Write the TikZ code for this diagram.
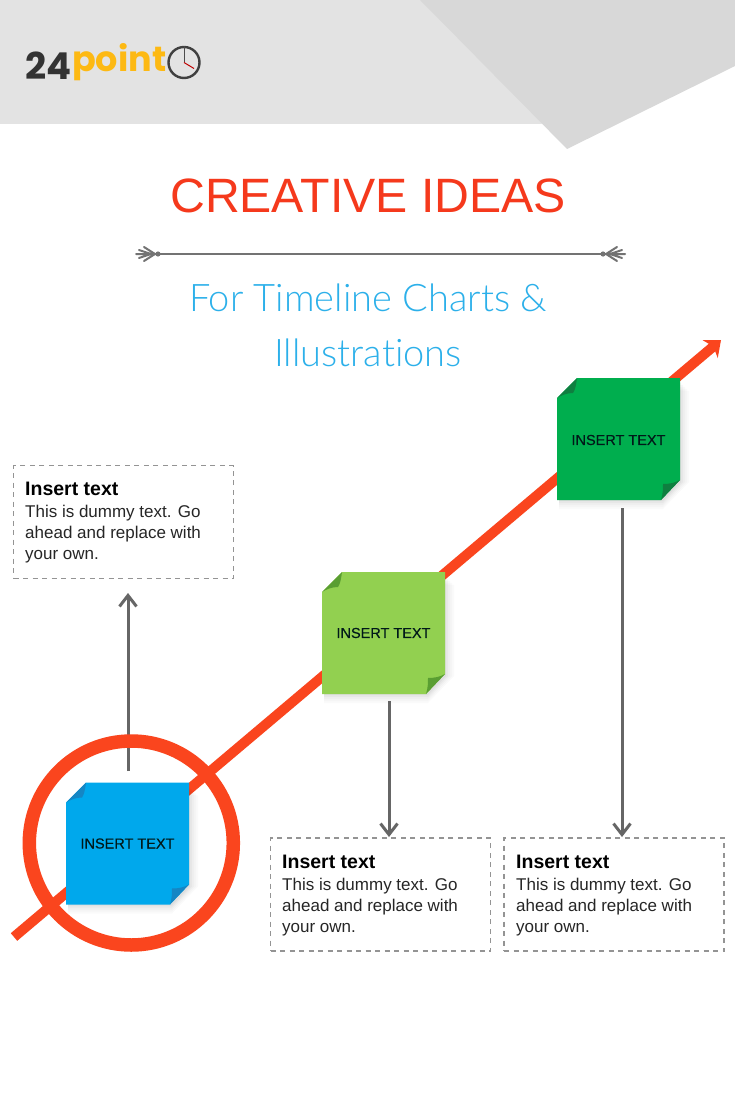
\documentclass[tikz,border=0pt]{standalone}
\usepackage{fontspec}
\setmainfont{Liberation Sans}
\newfontfamily\titlefont{Liberation Sans}
\newfontfamily\subfont[Ligatures=NoCommon]{Lato Light}
\newfontfamily\notefont[FakeBold=0.35]{Liberation Sans}
\newfontfamily\logofont{Poppins}[BoldFont={Poppins Bold}]
\usetikzlibrary{arrows.meta,calc}
\definecolor{redline}{HTML}{FA451E}
\definecolor{titlered}{HTML}{F5391C}
\definecolor{subblue}{HTML}{2CB0EA}
\definecolor{bluenote}{HTML}{00A8EC}
\definecolor{bluefold}{HTML}{1586C4}
\definecolor{greennote}{HTML}{00AE4E}
\definecolor{greenfold}{HTML}{0F7F40}
\definecolor{limenote}{HTML}{92D050}
\definecolor{limefold}{HTML}{5A9E32}
\definecolor{arrowgrey}{HTML}{666666}
\definecolor{bannerlight}{HTML}{E3E3E3}
\definecolor{bannerdark}{HTML}{D8D8D8}
\definecolor{logoyellow}{HTML}{FDB913}
\tikzset{
  infobox/.style={draw=black!42,dash pattern=on 5pt off 4.5pt,line width=1.6pt,minimum width=220pt,minimum height=113pt,inner sep=0pt},
  flow/.style={draw=arrowgrey,line width=3pt,-{Straight Barb[length=11pt,width=17pt,line width=3pt]}},
  noteword/.style={font=\notefont\fontsize{14.5}{16}\selectfont,text=black!80!teal},
  head/.style={font=\fontsize{19.5}{20}\bfseries\selectfont,anchor=west,inner sep=0pt},
  body/.style={font=\fontsize{17}{21}\selectfont,anchor=north west,align=left,inner sep=0pt,text=black!85},
  sprig/.style={draw=black!55,line width=2pt,line cap=round},
}
% note: #1 name, #2 left, #3 top, #4 fill, #5 fold
\newcommand{\stickynote}[5]{%
  \begin{scope}[shift={(#2,#3)}]
    \foreach \d/\o in {9/.02,7/.02,5/.025,3/.03,1/.035}{
      \fill[black,opacity=\o] (2,30) -- (30,4) -- (123+\d,4+\d) -- (123+\d,104) -- (106,122+\d) -- (2,122+\d) -- cycle;
    }
    \fill[#4] (0,20) -- (20,0) -- (123,0) -- (123,102) -- (104,122) -- (0,122) -- cycle;
    \fill[#5] (0,20) -- (20,0) .. controls (19,8) and (18,12) .. (16,15) .. controls (10,15) and (5,17) .. (0,20) -- cycle;
    \fill[#5] (123,102) -- (104,122) .. controls (106,116) and (106,110) .. (106,106) .. controls (112,106) and (118,105) .. (123,102) -- cycle;
    \coordinate (#1) at (61.5,61);
  \end{scope}%
}
\begin{document}
\begin{tikzpicture}[x=1pt,y=-1pt]
\useasboundingbox (0,0) rectangle (735,1102);
\fill[white] (0,0) rectangle (735,1102);
% banner
\fill[bannerlight] (0,0) rectangle (735,124);
\fill[white] (541,124) -- (735,66) -- (735,124) -- cycle;
\fill[bannerdark] (420,0) -- (735,0) -- (735,66) -- (567,149) -- cycle;
% logo
\node[anchor=base west,inner sep=0pt,text=black!80,font=\logofont\bfseries\fontsize{37}{37}\selectfont] (l24) at (25,80) {24};
\node[anchor=base west,inner sep=0pt,text=logoyellow,font=\logofont\bfseries\fontsize{35}{35}\selectfont] (lpoint) at (72,72) {point};
\node[circle,draw=black!75,line width=2.4pt,minimum size=31pt,inner sep=0pt] (clock) at (184,62.5) {};
\draw[black!70,line width=1pt] (clock.center) -- (clock.north);
\draw[red!75!black,line width=1pt] (clock.center) -- ++(10,6);
% title
\node[text=titlered,font=\titlefont\fontsize{48.2}{50}\selectfont,inner sep=0pt] (title) at (368,196) {CREATIVE IDEAS};
% ornament
\coordinate (ol) at (158,254);
\coordinate (or) at (603,254);
\draw[black!55,line width=1.1pt] (ol) -- (or);
\foreach \c/\s in {ol/1,or/-1}{
  \begin{scope}[shift={(\c)},x=\s pt]
    \fill[black!55] (0,0) circle (2.6pt);
    \draw[sprig] (0,0) -- (-22,0) (-3,0) -- (-14,-7) (-3,0) -- (-14,7) (-7,0) -- (-19,-4) (-7,0) -- (-19,4);
  \end{scope}
}
\node[text=subblue,font=\subfont\fontsize{38}{55}\selectfont,align=center,inner sep=0pt] (sub) at (368,325) {For Timeline Charts \&\\Illustrations};
% arrows under the ring
\coordinate (a1) at (128,771);
\coordinate (a2) at (389,701);
\coordinate (a3) at (622,508);
\draw[flow] (a1) -- (128,593);
\draw[flow] (a2) -- (389,837);
\draw[flow] (a3) -- (622,837);
% main line and circle
\coordinate (ls) at (14,937);
\coordinate (le) at (721,340);
\draw[redline,line width=10pt,-{Stealth[length=14pt,width=23pt,inset=4pt]}] (ls) -- (le);
\node[circle,draw=redline,line width=13.5pt,minimum size=204pt,inner sep=0pt] (ring) at (131.3,843) {};
% notes
\stickynote{nblue}{66}{782.5}{bluenote}{bluefold}
\stickynote{nlime}{322}{572}{limenote}{limefold}
\stickynote{ngreen}{557}{378}{greennote}{greenfold}
\node[noteword] (tb) at (nblue) {INSERT TEXT};
\node[noteword] (tl) at (nlime) {INSERT TEXT};
\node[noteword,yshift=-1pt] (tg) at (ngreen) {INSERT TEXT};
% boxes
\node[infobox] (b1) at (123.5,522) {};
\node[infobox] (b2) at (380.5,894.5) {};
\node[infobox] (b3) at (614,894.5) {};
\foreach \b/\x/\y in {b1/25/489,b2/282/862,b3/516/862}{
  \node[head] at (\x,\y) {Insert text};
  \node[body] at (\x,\y+15.5) {This is dummy text. Go\\ahead and replace with\\your own.};
}
\end{tikzpicture}
\end{document}
